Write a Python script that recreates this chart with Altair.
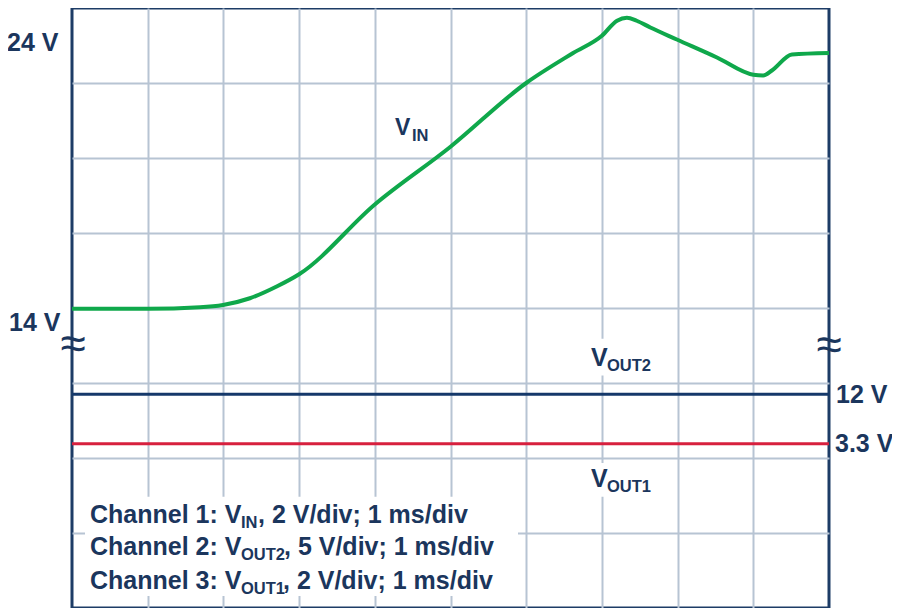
import altair as alt
import pandas as pd

# ---------------- data ----------------
# time axis in ms (1 ms/div), screen position in divisions (0 = bottom, 8 = top)
t_ms = [0.0, 1.0, 1.69, 1.995, 2.35, 2.71, 3.00, 4.00, 5.00, 6.00, 6.62, 7.00,
        7.20, 7.33, 7.46, 7.64, 7.99, 8.52, 9.00, 9.13, 9.25, 9.51, 10.0]
vin_div = [3.99, 3.99, 4.01, 4.04, 4.13, 4.29, 4.45, 5.38, 6.15, 7.00, 7.40, 7.63,
           7.83, 7.87, 7.83, 7.74, 7.58, 7.34, 7.11, 7.10, 7.17, 7.38, 7.40]
rail_names = ["VOUT2", "VOUT1"]
rail_div = [2.85, 2.19]

main_texts = ["24 V", "14 V", "12 V", "3.3 V", "V", "V",
              "Channel 1: V", ", 2 V/div; 1 ms/div",
              "Channel 2: V", ", 5 V/div; 1 ms/div",
              "Channel 3: V", ", 2 V/div; 1 ms/div"]
sub_texts = ["IN", "OUT2", "OUT1", "OUT2", "OUT1"]

# ---------------- layout (pixels measured on the reference) ----------------
W, H = 757, 600
X0, Y0 = 72, 5
PX_X, PX_Y = 757 / 10, 604 / 8


def dx(px):
    return (px - X0) / PX_X


def dy(py):
    return 8 - (py - Y0) / PX_Y


main_pos = [(7, 48), (9, 330), (836, 403), (835, 452), (591, 365), (591, 487),
            (90, 523), (258, 523), (90, 556), (284, 556), (90, 590), (283, 590)]
sub_pos = [(241, 528), (241, 561), (241, 595), (607, 370), (607, 492)]
boxes = [(85, 518, 497, 597), (586, 662, 338, 375), (586, 662, 463, 497)]
breaks = [(73, 344), (829, 345)]

TEXT = "#1b365d"
FRAME = "#1d3c66"
GRID = "#b7c4d3"
GREEN = "#0fa84b"
NAVY = "#15386a"
RED = "#d7203e"
FONT = "Liberation Sans"

xs = alt.Scale(domain=[0, 10], nice=False, zero=False)
ys = alt.Scale(domain=[0, 8], nice=False, zero=False)
X_AX = alt.Axis(values=list(range(1, 10)), grid=True, labels=False, ticks=False,
                domain=False, title=None, gridColor=GRID, gridWidth=2, gridOpacity=1)
Y_AX = alt.Axis(values=list(range(1, 8)), grid=True, labels=False, ticks=False,
                domain=False, title=None, gridColor=GRID, gridWidth=2, gridOpacity=1)

vin_df = pd.DataFrame({"t": t_ms, "v": vin_div})
rail_df = pd.DataFrame({"name": rail_names, "level": rail_div})
main_df = pd.DataFrame({"text": main_texts,
                        "x": [dx(p[0]) for p in main_pos],
                        "y": [dy(p[1]) for p in main_pos]})
sub_df = pd.DataFrame({"text": sub_texts,
                       "x": [dx(p[0]) for p in sub_pos],
                       "y": [dy(p[1]) for p in sub_pos]})
box_df = pd.DataFrame({"x": [dx(b[0]) for b in boxes], "x2": [dx(b[1]) for b in boxes],
                       "y": [dy(b[2]) for b in boxes], "y2": [dy(b[3]) for b in boxes]})
brk_df = pd.DataFrame({"text": ["≈"] * len(breaks),
                       "x": [dx(b[0]) for b in breaks],
                       "y": [dy(b[1]) for b in breaks]})
vin_lbl_v = pd.DataFrame({"text": ["V"], "x": [dx(395)], "y": [dy(133)]})
vin_lbl_s = pd.DataFrame({"text": ["IN"], "x": [dx(412)], "y": [dy(139)]})

line = alt.Chart(vin_df).mark_line(color=GREEN, strokeWidth=4, interpolate="monotone").encode(
    x=alt.X("t:Q", scale=xs, axis=X_AX),
    y=alt.Y("v:Q", scale=ys, axis=Y_AX),
)

rails = alt.Chart(rail_df).mark_rule(strokeWidth=3).encode(
    y=alt.Y("level:Q", scale=ys, axis=Y_AX),
    color=alt.Color("name:N", scale=alt.Scale(domain=rail_names, range=[NAVY, RED]), legend=None),
)

rects = alt.Chart(box_df).mark_rect(fill="white").encode(
    x=alt.X("x:Q", scale=xs, axis=X_AX), x2="x2",
    y=alt.Y("y:Q", scale=ys, axis=Y_AX), y2="y2",
)


def text_layer(df, size, font=FONT, weight="bold", align="left", baseline="alphabetic"):
    return alt.Chart(df).mark_text(font=font, fontSize=size, fontWeight=weight, color=TEXT,
                                   align=align, baseline=baseline).encode(
        x=alt.X("x:Q", scale=xs, axis=X_AX),
        y=alt.Y("y:Q", scale=ys, axis=Y_AX),
        text="text:N",
    )


chart = alt.layer(
    line, rails, rects,
    text_layer(main_df, 25),
    text_layer(sub_df, 16.5),
    text_layer(vin_lbl_v, 23),
    text_layer(vin_lbl_s, 16.5),
    text_layer(brk_df, 46, weight="normal", align="center", baseline="middle"),
).properties(
    width=W, height=H,
    autosize=alt.AutoSizeParams(type="none"),
    padding={"left": 64, "top": 0, "right": 63, "bottom": 0},
).configure_view(stroke=FRAME, strokeWidth=3)

chart.save("out.html", embed_options={"renderer": "svg", "actions": False})
